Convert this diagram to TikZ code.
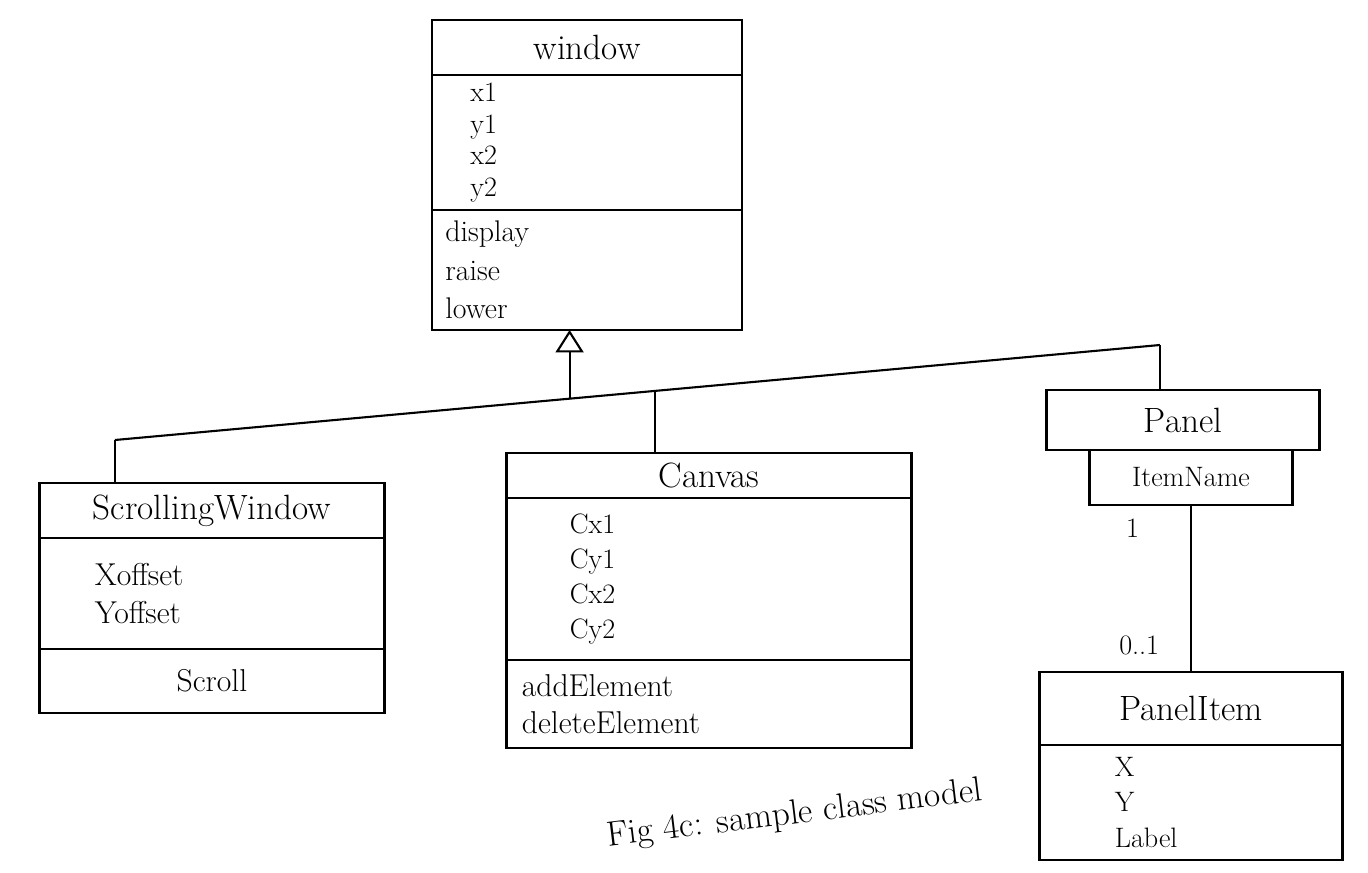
\documentclass[tikz,border=0pt]{standalone}
\usetikzlibrary{arrows.meta, positioning, calc}

\begin{document}
\begin{tikzpicture}[
    x=0.02cm, y=-0.02cm,
    classname/.style={
        draw,
        line width=1.2pt,
        outer sep=0pt,
        minimum height=1.1cm,
        inner sep=2pt,
        font=\fontsize{20}{24}\selectfont
    },
    compart/.style={
        draw,
        line width=1.2pt,
        outer sep=0pt,
        inner sep=0pt
    },
    members/.style={
        align=left,
        inner sep=0pt,
        font=\fontsize{16}{18}\selectfont
    },
    inherit/.style={
        -{Triangle[open, length=0.45cm, width=0.56cm]},
        line width=1.2pt
    },
    link/.style={line width=1.2pt}
]
\useasboundingbox (0,0) rectangle (1368,872);

% Window (superclass)
\node[classname, minimum width=6.2cm, anchor=north] (win) at (587,20) {window};
\node[compart, minimum width=6.2cm, minimum height=2.7cm, below=0pt of win] (win-attr) {};
\node[compart, minimum width=6.2cm, minimum height=2.4cm, below=0pt of win-attr] (win-ops) {};
\node[members, anchor=west] at ([xshift=0.76cm]win-attr.west) {x1\\y1\\x2\\y2};
\node[members, anchor=west, font=\fontsize{17}{22}\selectfont] at ([xshift=0.26cm]win-ops.west) {display\\raise\\lower};

% ScrollingWindow
\node[classname, minimum width=6.9cm, anchor=north] (sw) at (212,483) {ScrollingWindow};
\node[compart, minimum width=6.9cm, minimum height=2.22cm, below=0pt of sw] (sw-attr) {};
\node[compart, minimum width=6.9cm, minimum height=1.28cm, below=0pt of sw-attr] (sw-ops) {};
\node[members, anchor=west, font=\fontsize{18}{22}\selectfont] at ([xshift=1.1cm]sw-attr.west) {Xoffset\\Yoffset};
\node[members, font=\fontsize{18}{22}\selectfont] at (sw-ops) {Scroll};

% Canvas
\node[classname, minimum width=8.1cm, minimum height=0.9cm, anchor=north] (canvas) at (709,453) {Canvas};
\node[compart, minimum width=8.1cm, minimum height=3.24cm, below=0pt of canvas] (canvas-attr) {};
\node[compart, minimum width=8.1cm, minimum height=1.76cm, below=0pt of canvas-attr] (canvas-ops) {};
\node[members, anchor=west, font=\fontsize{16}{20}\selectfont] at ([xshift=1.26cm]canvas-attr.west) {Cx1\\Cy1\\Cx2\\Cy2};
\node[members, anchor=west, font=\fontsize{18}{21}\selectfont] at ([xshift=0.3cm]canvas-ops.west) {addElement\\deleteElement};

% Panel with qualifier
\node[classname, minimum width=5.46cm, minimum height=1.2cm, anchor=north] (panel) at (1183,390) {Panel};
\node[compart, minimum width=4.06cm, minimum height=1.1cm, below=0pt of panel, xshift=0.16cm,
      font=\fontsize{16}{19}\selectfont] (qual) {ItemName};

% PanelItem
\node[classname, minimum width=6.06cm, minimum height=1.46cm, anchor=north] (pitem) at (1191,672) {PanelItem};
\node[compart, minimum width=6.06cm, minimum height=2.3cm, below=0pt of pitem] (pitem-attr) {};
\node[members, anchor=west, font=\fontsize{16}{20}\selectfont] at ([xshift=1.5cm]pitem-attr.west) {X\\Y\\Label};

% Generalization tree
\coordinate (busL) at (115,440);
\coordinate (busR) at (1160,345);
\coordinate (j-win) at ($(busL)!0.435!(busR)$);
\coordinate (j-canvas) at ($(busL)!0.517!(busR)$);
\draw[link] (busL) -- (busR);
\draw[link] (busL) -- (busL |- sw.north);
\draw[link] (j-canvas) -- (j-canvas |- canvas.north);
\draw[link] (busR) -- (busR |- panel.north);
\draw[inherit] (j-win) -- (j-win |- win-ops.south);

% Qualified association
\draw[link] (qual.south) --
    node[pos=0.14, left=0.9cm, font=\fontsize{16}{19}\selectfont] {1}
    node[pos=0.84, left=0.5cm, font=\fontsize{16}{19}\selectfont] {0..1}
    (qual.south |- pitem.north);

% Caption
\node[rotate=7, font=\fontsize{20}{24}\selectfont] (caption) at (795,815) {Fig 4c: sample class model};
\end{tikzpicture}
\end{document}
